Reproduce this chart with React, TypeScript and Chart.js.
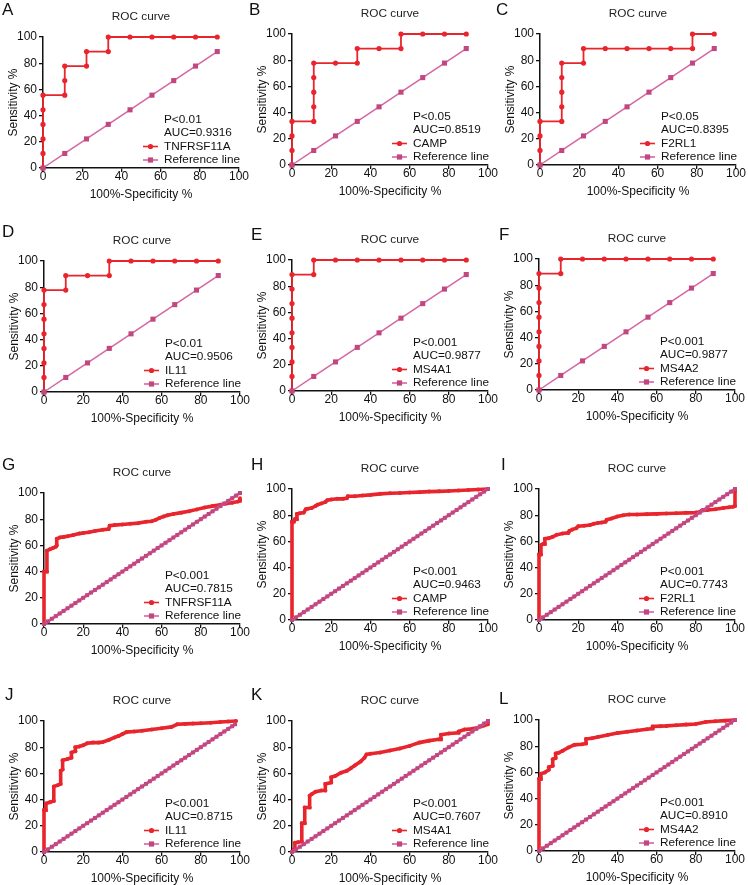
import React, { useEffect, useRef } from 'react';
import { Chart, registerables } from 'chart.js';

Chart.register(...registerables);

const FONT = "'Liberation Sans', Arial, Helvetica, sans-serif";
Chart.defaults.font.family = FONT;
Chart.defaults.color = '#111';

const RED = '#e8252d';
const REF_LINE = '#d566a4';
const REF_MARK = '#c2467f';

// ---------- shared labels ----------
const titleText = 'ROC curve';
const xTitle = '100%-Specificity %';
const yTitle = 'Sensitivity %';
const refLabel = 'Reference line';
const axisTicks = [0, 20, 40, 60, 80, 100];

// ---------- reference lines ----------
const refTopX = [0, 11.1, 22.2, 33.3, 44.4, 55.6, 66.7, 77.8, 88.9];
const refTopY = [0, 11.1, 22.2, 33.3, 44.4, 55.6, 66.7, 77.8, 88.9];
const refBotX = [0, 2, 4, 6, 8, 10, 12, 14, 16, 18, 20, 22, 24, 26, 28, 30, 32, 34, 36, 38, 40, 42, 44, 46, 48, 50, 52, 54, 56, 58, 60, 62, 64, 66, 68, 70, 72, 74, 76, 78, 80, 82, 84, 86, 88, 90, 92, 94, 96, 98, 100];
const refBotY = [0, 2, 4, 6, 8, 10, 12, 14, 16, 18, 20, 22, 24, 26, 28, 30, 32, 34, 36, 38, 40, 42, 44, 46, 48, 50, 52, 54, 56, 58, 60, 62, 64, 66, 68, 70, 72, 74, 76, 78, 80, 82, 84, 86, 88, 90, 92, 94, 96, 98, 100];
const refJX = [0, 2, 4, 6, 8, 10, 12, 14, 16, 18, 20, 22, 24, 26, 28, 30, 32, 34, 36, 38, 40, 42, 44, 46, 48, 50, 52, 54, 56, 58, 60, 62, 64, 66, 68, 70, 72, 74, 76, 78, 80, 82, 84, 86, 88, 90, 92, 94, 96, 97.5];
const refJY = [0, 2, 4, 6, 8, 10, 12, 14, 16, 18, 20, 22, 24, 26, 28, 30, 32, 34, 36, 38, 40, 42, 44, 46, 48, 50, 52, 54, 56, 58, 60, 62, 64, 66, 68, 70, 72, 74, 76, 78, 80, 82, 84, 86, 88, 90, 92, 94, 96, 97.5];

// ---------- panel A-F (small cohort) ----------
const aX = [0, 0, 0, 0, 0, 0, 11.1, 11.1, 11.1, 22.2, 22.2, 33.3, 33.3, 44.4, 55.6, 66.7, 77.8, 88.9];
const aY = [0, 11.1, 22.2, 33.3, 44.4, 55.6, 55.6, 66.7, 77.8, 77.8, 88.9, 88.9, 100, 100, 100, 100, 100, 100];
const bX = [0, 0, 0, 0, 11.1, 11.1, 11.1, 11.1, 11.1, 22.2, 33.3, 33.3, 44.4, 55.6, 55.6, 66.7, 77.8, 88.9];
const bY = [0, 11.1, 22.2, 33.3, 33.3, 44.4, 55.6, 66.7, 77.8, 77.8, 77.8, 88.9, 88.9, 88.9, 100, 100, 100, 100];
const cX = [0, 0, 0, 0, 11.1, 11.1, 11.1, 11.1, 11.1, 22.2, 22.2, 33.3, 44.4, 55.6, 66.7, 77.8, 77.8, 88.9];
const cY = [0, 11.1, 22.2, 33.3, 33.3, 44.4, 55.6, 66.7, 77.8, 77.8, 88.9, 88.9, 88.9, 88.9, 88.9, 88.9, 100, 100];
const dX = [0, 0, 0, 0, 0, 0, 0, 0, 11.1, 11.1, 22.2, 33.3, 33.3, 44.4, 55.6, 66.7, 77.8, 88.9];
const dY = [0, 11.1, 22.2, 33.3, 44.4, 55.6, 66.7, 77.8, 77.8, 88.9, 88.9, 88.9, 100, 100, 100, 100, 100, 100];
const eX = [0, 0, 0, 0, 0, 0, 0, 0, 0, 11.1, 11.1, 22.2, 33.3, 44.4, 55.6, 66.7, 77.8, 88.9];
const eY = [0, 11.1, 22.2, 33.3, 44.4, 55.6, 66.7, 77.8, 88.9, 88.9, 100, 100, 100, 100, 100, 100, 100, 100];
const fX = [0, 0, 0, 0, 0, 0, 0, 0, 0, 11.1, 11.1, 22.2, 33.3, 44.4, 55.6, 66.7, 77.8, 88.9];
const fY = [0, 11.1, 22.2, 33.3, 44.4, 55.6, 66.7, 77.8, 88.9, 88.9, 100, 100, 100, 100, 100, 100, 100, 100];

// ---------- panel G-L (large cohort) ----------
const gX = [0, 0, 1.5, 1.5, 3, 4.5, 6, 6.5, 6.5, 8, 10, 12, 15, 18, 20, 23, 26, 30, 33, 33.5, 36, 40, 44, 48, 52, 55, 57, 59, 61, 63, 66, 70, 74, 78, 82, 86, 90, 93, 96, 99, 100, 100];
const gY = [0, 40, 40, 56, 57, 58, 59, 60, 65, 66, 66.5, 67, 68, 69, 69.5, 70, 71, 72, 72.5, 75, 75.5, 76, 76.5, 77, 78, 78.5, 79.5, 81, 82, 83, 84, 85, 86, 87.5, 89, 90, 91, 92, 92.5, 93.5, 94, 96];
const hX = [0, 0, 1, 1.5, 2.5, 2.5, 4, 6, 7, 8, 10, 12, 13, 15, 17, 18, 20, 23, 26, 28, 28.5, 32, 36, 40, 45, 50, 55, 60, 65, 70, 75, 80, 85, 90, 95, 100];
const hY = [0, 75, 75, 77, 77, 81, 81.5, 82, 84.5, 85, 85.5, 87, 88, 89, 90, 91.5, 92, 92.5, 92.5, 93, 94.5, 94.5, 95, 95.5, 96.3, 96.8, 97, 97.3, 97.6, 98, 98.2, 98.5, 98.8, 99.2, 99.6, 100];
const iX = [0, 0, 1, 1, 2, 3, 3, 5, 7, 9, 12, 15, 15.5, 17, 19, 20, 23, 26, 28, 30, 32, 34, 34.5, 37, 40, 43, 46, 50, 55, 60, 65, 70, 75, 80, 82, 83, 86, 90, 94, 97, 99, 100, 100];
const iY = [0, 50, 50, 57, 58, 58, 62, 62.5, 63.5, 65, 66, 66.5, 68, 69, 70, 71.5, 72, 72.5, 73.5, 74, 74.5, 75, 76.5, 77.5, 79, 80, 80.5, 80.5, 80.8, 81, 81.3, 81.5, 81.8, 82, 82.5, 83.5, 84, 84.5, 85.5, 86, 86.5, 87, 98.5];
const jX = [0, 0, 1, 1, 3, 5, 5, 7, 8.5, 8.5, 9.5, 9.5, 12, 14, 14, 16, 16, 18, 20, 22, 25, 28, 30, 33, 36, 38, 40, 42, 46, 50, 55, 60, 65, 68, 72, 76, 80, 85, 90, 94, 98];
const jY = [0, 32, 32, 37, 38, 39, 50, 51, 52, 62, 63, 70, 71, 72, 76, 77, 80, 80.5, 81.5, 83, 83.5, 83.5, 84, 85.5, 87.5, 88.5, 90, 91.5, 92, 92.5, 93.5, 94.5, 95.5, 97.5, 97.8, 98, 98.3, 98.7, 99.2, 99.6, 100];
const kX = [0, 1, 1.5, 1.5, 3, 5, 5, 6.5, 6.5, 9, 9, 10, 12, 15, 17, 17, 20, 20, 22, 25, 28, 30, 32, 35, 37, 38, 40, 45, 50, 55, 60, 65, 70, 75, 76, 76, 80, 85, 85, 88, 92, 95, 98, 100];
const kY = [0, 2, 2, 7, 7.5, 8, 22, 22, 34, 34, 43, 44, 46, 47, 47, 52, 53, 57, 58, 60.5, 62, 64, 66, 69, 72, 74.5, 75, 76, 77.5, 79, 81, 83.5, 85, 86, 86, 89.5, 90.5, 91, 92, 93.5, 94, 95, 96.5, 97.5];
const lX = [0, 0, 1, 1, 3, 5, 5, 7, 7, 8.5, 8.5, 10, 12, 15, 18, 22, 24, 24, 27, 30, 35, 40, 45, 50, 55, 58, 58, 62, 65, 70, 75, 80, 85, 90, 95, 100];
const lY = [0, 55, 55, 59, 60, 62, 64, 65, 70, 71, 74.5, 75, 76.5, 79, 81, 81.5, 82, 85.5, 86, 87, 88.5, 90, 91, 92, 93, 93.5, 95, 95.3, 95.5, 96, 96.5, 97, 98.5, 99, 99.5, 100];

// ---------- per-panel labels ----------
const letters = ['A', 'B', 'C', 'D', 'E', 'F', 'G', 'H', 'I', 'J', 'K', 'L'];
const genes = ['TNFRSF11A', 'CAMP', 'F2RL1', 'IL11', 'MS4A1', 'MS4A2', 'TNFRSF11A', 'CAMP', 'F2RL1', 'IL11', 'MS4A1', 'MS4A2'];
const pTexts = ['P<0.01', 'P<0.05', 'P<0.05', 'P<0.01', 'P<0.001', 'P<0.001', 'P<0.001', 'P<0.001', 'P<0.001', 'P<0.001', 'P<0.001', 'P<0.001'];
const aucTexts = ['AUC=0.9316', 'AUC=0.8519', 'AUC=0.8395', 'AUC=0.9506', 'AUC=0.9877', 'AUC=0.9877', 'AUC=0.7815', 'AUC=0.9463', 'AUC=0.7743', 'AUC=0.8715', 'AUC=0.7607', 'AUC=0.8910'];
const rocXs = [aX, bX, cX, dX, eX, fX, gX, hX, iX, jX, kX, lX];
const rocYs = [aY, bY, cY, dY, eY, fY, gY, hY, iY, jY, kY, lY];
const refXs = [refTopX, refTopX, refTopX, refTopX, refTopX, refTopX, refBotX, refBotX, refBotX, refJX, refBotX, refBotX];
const refYs = [refTopY, refTopY, refTopY, refTopY, refTopY, refTopY, refBotY, refBotY, refBotY, refJY, refBotY, refBotY];

// ---------- layout (page positions of each plot area and letter) ----------
const Y_AXIS_W = 44;
const X_AXIS_H = 38;
const TOP_H = 38;
const PLOT_W = 196;
const PLOT_H = 131;
const RIGHT_PAD = 14;
const plotPos: [number, number][] = [
  [43, 37], [292, 34], [540, 34],
  [44, 261], [292, 260], [539, 259],
  [44, 493], [292, 489], [539, 489],
  [44, 721], [292, 721], [539, 720],
];
const letterPos: [number, number][] = [
  [2, 1], [249, 1], [496, 1],
  [2, 223], [251, 226], [499, 226],
  [2, 456], [251, 456], [501, 456],
  [5, 686], [251, 686], [499, 690],
];

const annotPlugin = {
  id: 'rocAnnot',
  afterDatasetsDraw(chart: any, _args: any, opts: any) {
    const { ctx, chartArea } = chart;
    const { right, bottom } = chartArea;
    ctx.save();
    ctx.font = `11.8px ${FONT}`;
    ctx.fillStyle = '#111';
    ctx.textBaseline = 'middle';
    ctx.textAlign = 'left';
    const tx = right - 75;
    ctx.fillText(opts.p, tx, bottom - 48);
    ctx.fillText(opts.auc, tx, bottom - 35);
    const rows = [chart.data.datasets[0], chart.data.datasets[1]];
    rows.forEach((ds: any, i: number) => {
      const y = bottom - 21.5 + i * 13.5;
      ctx.strokeStyle = ds.borderColor;
      ctx.lineWidth = 1.6;
      ctx.beginPath();
      ctx.moveTo(right - 96, y);
      ctx.lineTo(right - 81, y);
      ctx.stroke();
      ctx.fillStyle = ds.pointBackgroundColor;
      const cx = right - 88.5;
      if (ds.pointStyle === 'rect') {
        ctx.fillRect(cx - 2.6, y - 2.6, 5.2, 5.2);
      } else {
        ctx.beginPath();
        ctx.arc(cx, y, 2.6, 0, Math.PI * 2);
        ctx.fill();
      }
      ctx.fillStyle = '#111';
      ctx.fillText(ds.label, tx, y);
    });
    ctx.restore();
  },
};

function Panel({ idx }: { idx: number }) {
  const canvasRef = useRef<HTMLCanvasElement>(null);
  const dense = idx >= 6;
  const [pl, pt] = plotPos[idx];
  const cw = Y_AXIS_W + PLOT_W + RIGHT_PAD;
  const ch = TOP_H + PLOT_H + X_AXIS_H;

  useEffect(() => {
    const rocData = rocXs[idx].map((x, i) => ({ x, y: rocYs[idx][i] }));
    const refData = refXs[idx].map((x, i) => ({ x, y: refYs[idx][i] }));
    const tickFont = { size: 12, lineHeight: 1 };
    const chart = new Chart(canvasRef.current as HTMLCanvasElement, {
      type: 'line',
      data: {
        datasets: [
          {
            label: genes[idx],
            data: rocData,
            borderColor: RED,
            backgroundColor: RED,
            pointBackgroundColor: RED,
            pointBorderColor: RED,
            pointBorderWidth: 0,
            borderWidth: dense ? 3.6 : 1.8,
            pointRadius: dense ? 2 : 2.6,
            pointStyle: 'circle',
            tension: 0,
            clip: false,
            order: 2,
          } as any,
          {
            label: refLabel,
            data: refData,
            borderColor: REF_LINE,
            backgroundColor: REF_MARK,
            pointBackgroundColor: REF_MARK,
            pointBorderColor: REF_MARK,
            pointBorderWidth: 0,
            borderWidth: dense ? 3 : 1.5,
            pointRadius: dense ? 2.8 : 3.6,
            pointStyle: 'rect',
            tension: 0,
            clip: false,
            order: 1,
          } as any,
        ],
      },
      options: {
        responsive: false,
        animation: false,
        events: [],
        layout: { padding: { left: 0, right: RIGHT_PAD, top: 0, bottom: 0 } },
        scales: {
          x: {
            type: 'linear',
            min: 0,
            max: 100,
            afterBuildTicks: (s: any) => { s.ticks = axisTicks.map((v) => ({ value: v })); },
            ticks: { font: tickFont, color: '#111', padding: -1, maxRotation: 0, autoSkip: false },
            grid: { drawOnChartArea: false, tickLength: 4, color: '#111', lineWidth: 1.3 },
            border: { color: '#111', width: 1.5 },
            title: { display: true, text: xTitle, font: { size: 12, lineHeight: 1.2 }, color: '#111', padding: { top: 0, bottom: 4 } },
            afterFit: (s: any) => { s.height = X_AXIS_H; },
          },
          y: {
            type: 'linear',
            min: 0,
            max: 100,
            afterBuildTicks: (s: any) => { s.ticks = axisTicks.map((v) => ({ value: v })); },
            ticks: { font: tickFont, color: '#111', padding: 2, autoSkip: false },
            grid: { drawOnChartArea: false, tickLength: 4, color: '#111', lineWidth: 1.3 },
            border: { color: '#111', width: 1.5 },
            title: { display: true, text: yTitle, font: { size: 12, lineHeight: 1.2 }, color: '#111', padding: { top: 7, bottom: 0 } },
            afterFit: (s: any) => { s.width = Y_AXIS_W; },
          },
        },
        plugins: {
          legend: { display: false },
          tooltip: { enabled: false },
          title: {
            display: true,
            text: titleText,
            fullSize: false,
            color: '#222',
            font: { size: 11.8, weight: 'normal', lineHeight: 1 },
            padding: { top: 12, bottom: TOP_H - 12 - 11.8 },
          },
          rocAnnot: { p: pTexts[idx], auc: aucTexts[idx] },
        } as any,
      },
      plugins: [annotPlugin],
    } as any);
    return () => chart.destroy();
  }, [idx]);

  return (
    <canvas
      ref={canvasRef}
      width={cw}
      height={ch}
      style={{ position: 'absolute', left: pl - Y_AXIS_W, top: pt - TOP_H, width: cw, height: ch }}
    />
  );
}

export default function App() {
  return (
    <div
      style={{
        position: 'fixed',
        left: 0,
        top: 0,
        width: 748,
        height: 885,
        overflow: 'hidden',
        background: '#fff',
      }}
    >
      {letters.map((_, i) => (
        <Panel key={'p' + i} idx={i} />
      ))}
      {letters.map((L, i) => (
        <div
          key={'l' + i}
          style={{
            position: 'absolute',
            left: letterPos[i][0],
            top: letterPos[i][1],
            fontFamily: FONT,
            fontSize: 17,
            lineHeight: '17px',
            color: '#111',
          }}
        >
          {L}
        </div>
      ))}
    </div>
  );
}
